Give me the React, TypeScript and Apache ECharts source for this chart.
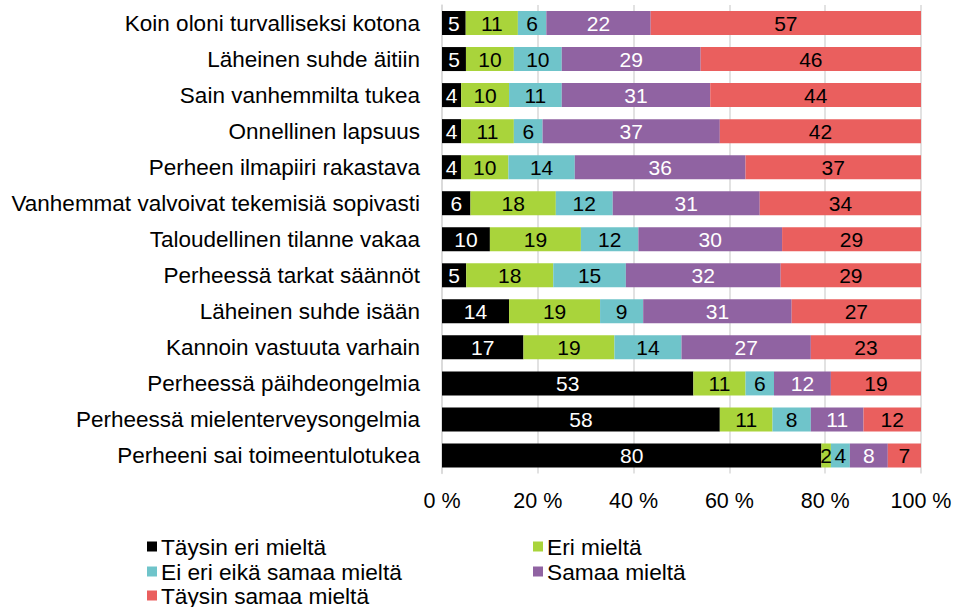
import React, { useEffect, useRef } from "react";
import * as echarts from "echarts";

const categories = [
  "Koin oloni turvalliseksi kotona",
  "Läheinen suhde äitiin",
  "Sain vanhemmilta tukea",
  "Onnellinen lapsuus",
  "Perheen ilmapiiri rakastava",
  "Vanhemmat valvoivat tekemisiä sopivasti",
  "Taloudellinen tilanne vakaa",
  "Perheessä tarkat säännöt",
  "Läheinen suhde isään",
  "Kannoin vastuuta varhain",
  "Perheessä päihdeongelmia",
  "Perheessä mielenterveysongelmia",
  "Perheeni sai toimeentulotukea",
];

const seriesNames = [
  "Täysin eri mieltä",
  "Eri mieltä",
  "Ei eri eikä samaa mieltä",
  "Samaa mieltä",
  "Täysin samaa mieltä",
];

const taysinEri = [5, 5, 4, 4, 4, 6, 10, 5, 14, 17, 53, 58, 80];
const eri = [11, 10, 10, 11, 10, 18, 19, 18, 19, 19, 11, 11, 2];
const eiEri = [6, 10, 11, 6, 14, 12, 12, 15, 9, 14, 6, 8, 4];
const samaa = [22, 29, 31, 37, 36, 31, 30, 32, 31, 27, 12, 11, 8];
const taysinSamaa = [57, 46, 44, 42, 37, 34, 29, 29, 27, 23, 19, 12, 7];

const xTicks = [0, 20, 40, 60, 80, 100];

const colors = ["#000000", "#A9D43B", "#6FC4CA", "#9063A2", "#EA5F5E"];
const labelColors = ["#ffffff", "#000000", "#000000", "#ffffff", "#000000"];

const FONT = "Liberation Sans, Arial, sans-serif";

export default function App() {
  const ref = useRef<HTMLDivElement>(null);
  useEffect(() => {
    if (!ref.current) return;
    const chart = echarts.init(ref.current, undefined, { renderer: "svg" });
    const raw = [taysinEri, eri, eiEri, samaa, taysinSamaa];
    const sums = categories.map((_, i) => raw.reduce((s, a) => s + a[i], 0));
    const series = raw.map((arr, si) => ({
      name: seriesNames[si],
      type: "bar",
      stack: "total",
      barWidth: 24,
      itemStyle: { color: colors[si] },
      label: {
        show: true,
        position: "inside",
        color: labelColors[si],
        fontSize: 21,
        fontFamily: FONT,
        formatter: (p: any) => String(arr[p.dataIndex]),
      },
      data: arr.map((v, i) => (v / sums[i]) * 100),
    }));
    const legendPos = [
      { left: 147, top: 535 },
      { left: 533, top: 535 },
      { left: 147, top: 560 },
      { left: 533, top: 560 },
      { left: 147, top: 584 },
    ];
    const legends = seriesNames.map((n, i) => ({
      data: [n],
      left: legendPos[i].left,
      top: legendPos[i].top,
      itemWidth: 10,
      itemHeight: 10,
      itemGap: 0,
      padding: 0,
      icon: "rect",
      textStyle: { fontSize: 22.7, fontFamily: FONT, color: "#000", padding: [0, 0, 0, -1] },
      selectedMode: false,
    }));
    chart.setOption({
      animation: false,
      grid: { left: 442, right: 37, top: 5, height: 468.5, containLabel: false },
      legend: legends,
      xAxis: {
        type: "value",
        min: xTicks[0],
        max: xTicks[xTicks.length - 1],
        interval: 20,
        axisLine: { show: false },
        axisTick: { show: false },
        axisLabel: {
          formatter: "{value} %",
          fontSize: 21.5,
          fontFamily: FONT,
          color: "#000",
          margin: 16,
        },
        splitLine: { show: true, lineStyle: { color: "#d9d9d9", width: 1.5 } },
      },
      yAxis: {
        type: "category",
        inverse: true,
        data: categories,
        axisLine: { show: true, lineStyle: { color: "#d9d9d9", width: 1.5 } },
        axisTick: { show: false },
        axisLabel: {
          fontSize: 22.5,
          fontFamily: FONT,
          color: "#000",
          margin: 22,
        },
      },
      series,
    });
    return () => chart.dispose();
  }, []);
  return <div ref={ref} style={{ width: 958, height: 607, position: "absolute", left: 0, top: 0 }} />;
}
